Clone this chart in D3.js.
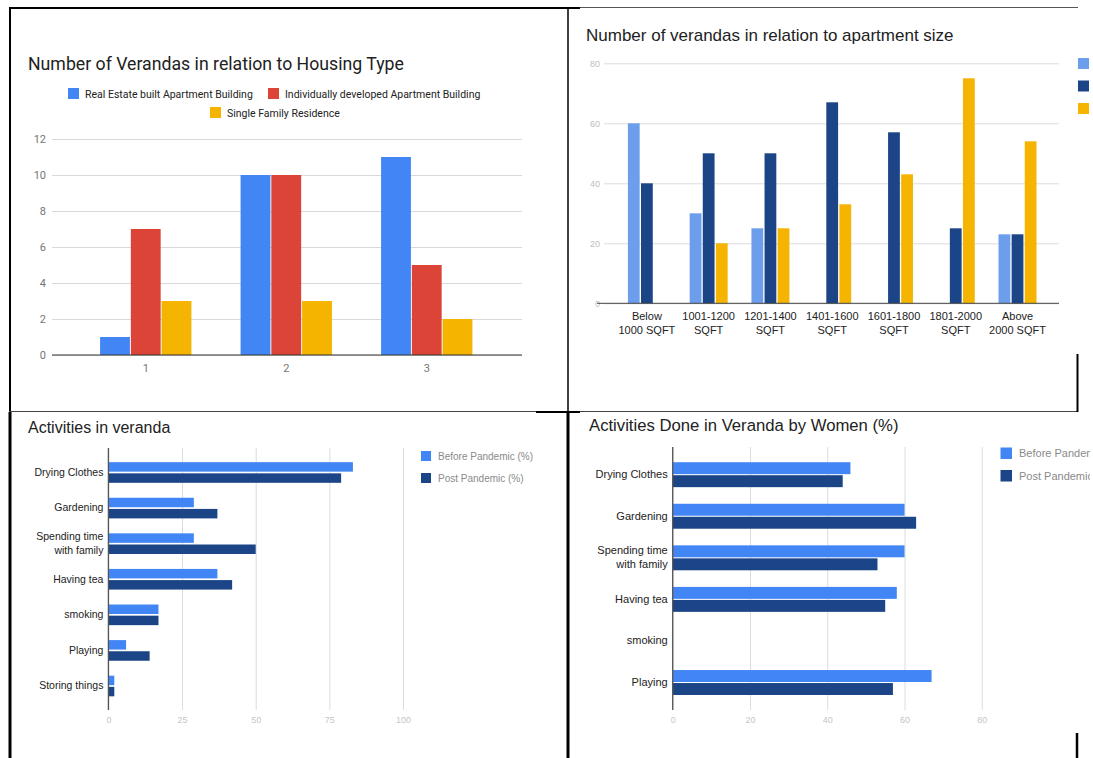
<!DOCTYPE html>
<html><head><meta charset="utf-8">
<script src="https://cdn.jsdelivr.net/npm/d3@7"></script>
<style>
html,body{margin:0;padding:0;background:#fff;}
svg{display:block;}
</style></head><body>
<svg id="fig" width="1093" height="758"></svg>
<script>
// ---- Housing type chart data ----
const housingCategories = ["1", "2", "3"];
const housingSeries = ["Real Estate built Apartment Building", "Individually developed Apartment Building", "Single Family Residence"];
const realEstateCounts = [1, 10, 11];
const individualCounts = [7, 10, 5];
const singleFamilyCounts = [3, 3, 2];
const housingTicks = [0, 2, 4, 6, 8, 10, 12];

// ---- Apartment size chart data ----
const sizeCategories = [["Below", "1000 SQFT"], ["1001-1200", "SQFT"], ["1201-1400", "SQFT"], ["1401-1600", "SQFT"], ["1601-1800", "SQFT"], ["1801-2000", "SQFT"], ["Above", "2000 SQFT"]];
const sizeSeriesA = [60, 30, 25, 0, 0, 0, 23];
const sizeSeriesB = [40, 50, 50, 67, 57, 25, 23];
const sizeSeriesC = [0, 20, 25, 33, 43, 75, 54];
const sizeTicks = [0, 20, 40, 60, 80];

// ---- Activities chart data ----
const activityCategories = [["Drying Clothes"], ["Gardening"], ["Spending time", "with family"], ["Having tea"], ["smoking"], ["Playing"], ["Storing things"]];
const activityBefore = [83, 29, 29, 37, 17, 6, 2];
const activityPost = [79, 37, 50, 42, 17, 14, 2];
const activityTicks = [0, 25, 50, 75, 100];
const activitySeries = ["Before Pandemic (%)", "Post Pandemic (%)"];

// ---- Women's activities chart data ----
const womenCategories = [["Drying Clothes"], ["Gardening"], ["Spending time", "with family"], ["Having tea"], ["smoking"], ["Playing"]];
const womenBefore = [46, 60, 60, 58, 0, 67];
const womenPost = [44, 63, 53, 55, 0, 57];
const womenTicks = [0, 20, 40, 60, 80];
const womenSeries = ["Before Pandemic", "Post Pandemic"];

const svg = d3.select("#fig");
svg.append("rect").attr("width", 1093).attr("height", 758).attr("fill", "#fff");

const ROBOTO = "Roboto, 'Noto Sans', sans-serif";
const ARIAL = "'Liberation Sans', Arial, sans-serif";

// ================= Chart 1: verandas by housing type =================
(function () {
  const g = svg.append("g").attr("font-family", ROBOTO);
  const colors = ["#4285F4", "#DB4437", "#F4B400"];
  const rows = housingCategories.map((c, i) => ({ cat: c, vals: [realEstateCounts[i], individualCounts[i], singleFamilyCounts[i]] }));

  const x0 = d3.scaleBand().domain(housingCategories).range([75.5, 497]).paddingInner(0.35).paddingOuter(0.175);
  const x1 = d3.scaleBand().domain(d3.range(housingSeries.length)).range([0, x0.bandwidth()]).paddingInner(0.03);
  const y = d3.scaleLinear().domain([0, 12]).range([355, 139]);

  g.append("text").attr("x", 28).attr("y", 70).attr("font-size", 17.7).attr("fill", "#212121")
    .text("Number of Verandas in relation to Housing Type");

  // legend
  const legendPos = [[68, 88], [268, 88], [210, 107]];
  housingSeries.forEach((s, i) => {
    const [lx, ly] = legendPos[i];
    g.append("rect").attr("x", lx).attr("y", ly).attr("width", 11).attr("height", 11).attr("fill", colors[i]);
    g.append("text").attr("x", lx + 17).attr("y", ly + 9.5).attr("font-size", 10.5).attr("fill", "#222").text(s);
  });

  const yAxis = g.append("g").attr("transform", "translate(52,0)")
    .call(d3.axisLeft(y).tickValues(housingTicks).tickSize(-470).tickPadding(6));
  yAxis.select(".domain").remove();
  yAxis.selectAll("line").attr("stroke", "#d9d9d9");
  yAxis.selectAll("text").attr("font-family", ROBOTO).attr("font-size", 11).attr("fill", "#757575");

  rows.forEach(r => {
    g.append("g").attr("transform", `translate(${x0(r.cat)},0)`)
      .selectAll("rect").data(r.vals).join("rect")
      .attr("x", (d, i) => x1(i)).attr("width", x1.bandwidth())
      .attr("y", d => y(d)).attr("height", d => y(0) - y(d))
      .attr("fill", (d, i) => colors[i]);
  });

  g.append("line").attr("x1", 52).attr("x2", 522).attr("y1", y(0)).attr("y2", y(0)).attr("stroke", "#333");
  const xAxis = g.append("g").attr("transform", `translate(0,${y(0)})`)
    .call(d3.axisBottom(x0).tickSize(0).tickPadding(9));
  xAxis.select(".domain").remove();
  xAxis.selectAll("text").attr("font-family", ROBOTO).attr("font-size", 11).attr("fill", "#757575");
})();

// ================= Chart 2: verandas by apartment size =================
(function () {
  const g = svg.append("g").attr("font-family", ARIAL);
  const colors = ["#6D9EEB", "#1C4587", "#F4B400"];
  const keys = sizeCategories.map(d => d.join(" "));
  const rows = keys.map((k, i) => ({ cat: k, vals: [sizeSeriesA[i], sizeSeriesB[i], sizeSeriesC[i]] }));

  const x0 = d3.scaleBand().domain(keys).range([616, 1048.4]).paddingInner(0.385).paddingOuter(0.1925);
  const x1 = d3.scaleBand().domain([0, 1, 2]).range([0, x0.bandwidth()]).paddingInner(0.1);
  const y = d3.scaleLinear().domain([0, 80]).range([303.3, 63.3]);

  g.append("text").attr("x", 586).attr("y", 41).attr("font-size", 17).attr("fill", "#222")
    .text("Number of verandas in relation to apartment size");

  const yAxis = g.append("g").attr("transform", "translate(604,0)")
    .call(d3.axisLeft(y).tickValues(sizeTicks).tickSize(-455).tickPadding(4));
  yAxis.select(".domain").remove();
  yAxis.selectAll("line").attr("stroke", "#dcdcdc");
  yAxis.selectAll("text").attr("font-family", ARIAL).attr("font-size", 9).attr("fill", "#c0c0c0");

  rows.forEach(r => {
    g.append("g").attr("transform", `translate(${x0(r.cat)},0)`)
      .selectAll("rect").data(r.vals).join("rect")
      .attr("x", (d, i) => x1(i)).attr("width", x1.bandwidth())
      .attr("y", d => y(d)).attr("height", d => y(0) - y(d))
      .attr("fill", (d, i) => colors[i]);
  });

  g.append("line").attr("x1", 597).attr("x2", 1059).attr("y1", y(0)).attr("y2", y(0)).attr("stroke", "#444");

  const xAxis = g.append("g").attr("transform", `translate(0,${y(0)})`)
    .call(d3.axisBottom(x0).tickSize(0).tickPadding(9));
  xAxis.select(".domain").remove();
  xAxis.selectAll("text").each(function (d, i) {
    const t = d3.select(this).text(null).attr("font-family", ARIAL).attr("font-size", 11).attr("fill", "#222");
    sizeCategories[i].forEach((line, j) => {
      t.append("tspan").attr("x", 0).attr("dy", j === 0 ? "0.71em" : "1.3em").text(line);
    });
  });

  // legend keys (labels fall outside the frame)
  colors.forEach((c, i) => {
    g.append("rect").attr("x", 1078).attr("y", 58 + i * 22.5).attr("width", 11).attr("height", 11).attr("fill", c);
  });
})();

// ===== helper for horizontal grouped bar charts =====
function horizontalChart(opts) {
  const g = svg.append("g").attr("font-family", ARIAL);
  const keys = opts.categories.map(d => d.join(" "));
  const y0 = d3.scaleBand().domain(keys).range(opts.yRange).paddingInner(opts.padIn).paddingOuter(opts.padIn / 2);
  const y1 = d3.scaleBand().domain([0, 1]).range([0, y0.bandwidth()]).paddingInner(opts.barGap);
  const x = d3.scaleLinear().domain(opts.xDomain).range(opts.xRange);

  g.append("text").attr("x", opts.titleX).attr("y", opts.titleY).attr("font-size", opts.titleSize).attr("fill", "#222").text(opts.title);

  const xAxis = g.append("g").attr("transform", `translate(0,${opts.gridBottom})`)
    .call(d3.axisBottom(x).tickValues(opts.ticks).tickSize(-(opts.gridBottom - opts.gridTop)).tickPadding(7));
  xAxis.select(".domain").remove();
  xAxis.selectAll("line").attr("stroke", "#dcdcdc");
  xAxis.selectAll("text").attr("font-family", ARIAL).attr("font-size", 9).attr("fill", "#c6c6c6");

  const rows = keys.map((k, i) => ({ cat: k, vals: [opts.before[i], opts.post[i]] }));
  rows.forEach(r => {
    g.append("g").attr("transform", `translate(0,${y0(r.cat)})`)
      .selectAll("rect").data(r.vals).join("rect")
      .attr("x", x(0)).attr("y", (d, i) => y1(i)).attr("height", y1.bandwidth())
      .attr("width", d => x(d) - x(0))
      .attr("fill", (d, i) => opts.colors[i]);
  });

  g.append("line").attr("x1", x(0)).attr("x2", x(0)).attr("y1", opts.gridTop).attr("y2", opts.gridBottom)
    .attr("stroke", "#555").attr("stroke-width", 1.3);

  const yAxis = g.append("g").attr("transform", `translate(${x(0)},0)`)
    .call(d3.axisLeft(y0).tickSize(0).tickPadding(5));
  yAxis.select(".domain").remove();
  yAxis.selectAll("text").each(function (d, i) {
    const lines = opts.categories[i];
    const t = d3.select(this).text(null).attr("font-family", ARIAL).attr("font-size", opts.labelSize).attr("fill", "#222");
    lines.forEach((line, j) => {
      const off = (j - (lines.length - 1) / 2) * 1.25 + 0.32;
      t.append("tspan").attr("x", -5).attr("y", 0).attr("dy", off + "em").text(line);
    });
  });

  const lg = g.append("g").attr("clip-path", opts.clip ? `url(#${opts.clip})` : null);
  opts.series.forEach((s, i) => {
    const ly = opts.legendY + i * opts.legendStep;
    lg.append("rect").attr("x", opts.legendX).attr("y", ly).attr("width", opts.legendBox).attr("height", opts.legendBox).attr("fill", opts.colors[i]);
    lg.append("text").attr("x", opts.legendX + opts.legendBox + 7).attr("y", ly + opts.legendBox / 2).attr("dy", "0.35em")
      .attr("font-size", opts.legendSize).attr("fill", "#8a8a8a").text(s);
  });
}

svg.append("defs").append("clipPath").attr("id", "legendClip")
  .append("rect").attr("x", 0).attr("y", 0).attr("width", 1090).attr("height", 758);

// ================= Chart 3: activities in veranda =================
horizontalChart({
  title: "Activities in veranda", titleX: 28, titleY: 433, titleSize: 16,
  categories: activityCategories, before: activityBefore, post: activityPost,
  ticks: activityTicks, xDomain: [0, 100], xRange: [108.4, 403],
  yRange: [454.7, 703.8], padIn: 0.42, barGap: 0.15,
  gridTop: 448, gridBottom: 710, labelSize: 10.5,
  colors: ["#4285F4", "#1C4587"], series: activitySeries,
  legendX: 421, legendY: 451, legendStep: 22, legendBox: 10, legendSize: 10
});

// ================= Chart 4: activities by women =================
horizontalChart({
  title: "Activities Done in Veranda by Women (%)", titleX: 589, titleY: 431, titleSize: 16.7,
  categories: womenCategories, before: womenBefore, post: womenPost,
  ticks: womenTicks, xDomain: [0, 80], xRange: [672.7, 981.8],
  yRange: [453.9, 703.3], padIn: 0.4, barGap: 0.08,
  gridTop: 447, gridBottom: 710, labelSize: 11,
  colors: ["#4285F4", "#1C4587"], series: womenSeries,
  legendX: 1000.5, legendY: 447.5, legendStep: 22.5, legendBox: 11.5, legendSize: 11, clip: "legendClip"
});

// ================= Frame lines between panels =================
const frame = svg.append("g").attr("stroke", "#000").attr("fill", "none");
const seg = (x1, y1, x2, y2, w, c) => frame.append("line").attr("x1", x1).attr("y1", y1).attr("x2", x2).attr("y2", y2)
  .attr("stroke-width", w).attr("stroke", c || "#000");
seg(9, 8, 580, 8, 2);
seg(580, 7.5, 1078, 7.5, 1, "#555");
seg(10, 7, 10, 412, 2);
seg(10, 412, 10, 758, 3);
seg(568, 7, 568, 412, 1.5);
seg(568, 412, 568, 758, 3);
seg(9, 411.5, 1078, 411.5, 1, "#444");
seg(536, 412, 580, 412, 2);
seg(1077.5, 354, 1077.5, 412, 2);
seg(1077, 733, 1077, 758, 2.5);
</script>
</body></html>
